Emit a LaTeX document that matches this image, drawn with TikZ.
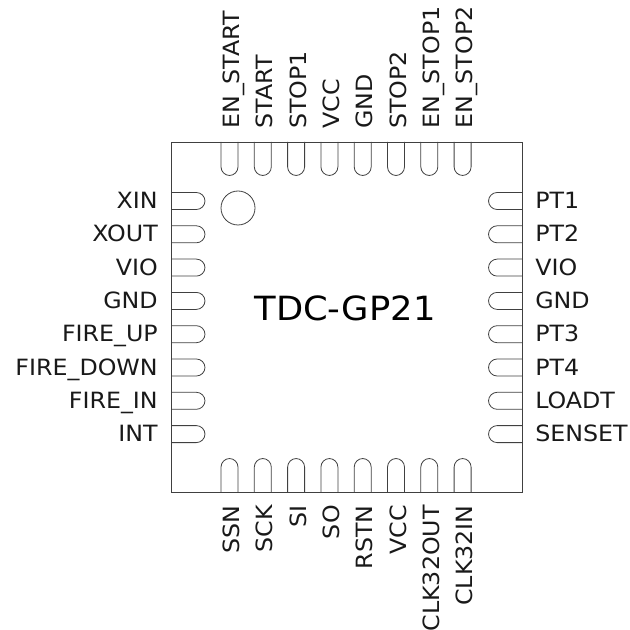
\documentclass[tikz,border=0pt]{standalone}
\usepackage{fontspec}
\setmainfont[FakeStretch=1.06]{DejaVu Sans}
\usepackage{tikz}
\tikzset{pad/.style={draw=black!75,line width=0.6pt,rounded corners=6.5pt},
pinlabel/.style={font=\fontsize{16.8}{20}\selectfont,inner sep=0pt,text=black!90}}
\begin{document}
\begin{tikzpicture}[x=0.75pt,y=-0.75pt]
\useasboundingbox (0,0) rectangle (630,630);
\draw[draw=black!75,line width=0.7pt] (171.5,142) rectangle (522,492);
\node[circle,draw=black!75,line width=0.6pt,minimum size=25.5pt,inner sep=0pt] (dot) at (238,208) {};
\node[font=\fontsize{25}{30}\selectfont,inner sep=0pt,anchor=base] (chip) at (345,320) {TDC-GP21};
% left pins
\foreach \name [count=\i from 0] in {XIN,XOUT,VIO,GND,FIRE\_UP,FIRE\_DOWN,FIRE\_IN,INT}{
\draw[pad] (171.5,192.5+33.3*\i) -- (205,192.5+33.3*\i) -- (205,209.5+33.3*\i) -- (171.5,209.5+33.3*\i);
\node[pinlabel,anchor=base east] (left\i) at (158,208.7+33.3*\i) {\name};
}
% right pins
\foreach \name [count=\i from 0] in {PT1,PT2,VIO,GND,PT3,PT4,LOADT,SENSET}{
\draw[pad] (522,192.5+33.3*\i) -- (488.5,192.5+33.3*\i) -- (488.5,209.5+33.3*\i) -- (522,209.5+33.3*\i);
\node[pinlabel,anchor=base west] (right\i) at (535,208.7+33.3*\i) {\name};
}
% top pins
\foreach \name [count=\i from 0] in {EN\_START,START,STOP1,VCC,GND,STOP2,EN\_STOP1,EN\_STOP2}{
\draw[pad] (221+33.3*\i,142) -- (221+33.3*\i,175.5) -- (238+33.3*\i,175.5) -- (238+33.3*\i,142);
\node[pinlabel,anchor=base west,rotate=90] (top\i) at (239.5+33.3*\i,129) {\name};
}
% bottom pins
\foreach \name [count=\i from 0] in {SSN,SCK,SI,SO,RSTN,VCC,CLK32OUT,CLK32IN}{
\draw[pad] (221+33.3*\i,492) -- (221+33.3*\i,458.5) -- (238+33.3*\i,458.5) -- (238+33.3*\i,492);
\node[pinlabel,anchor=base east,rotate=90] (bottom\i) at (239.5+33.3*\i,505) {\name};
}
\end{tikzpicture}
\end{document}
